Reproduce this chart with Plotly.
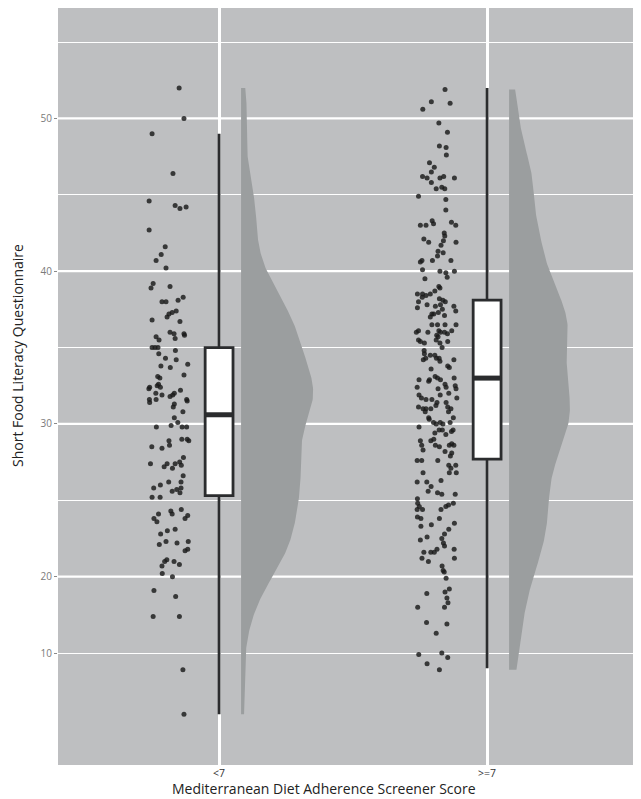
import numpy as np
import plotly.graph_objects as go

# ---------------- data ----------------
CATEGORIES = ["<7", ">=7"]
CAT_POS = [0, 1]

# group "<7": scores and horizontal jitter offsets (category units)
Y_LT7 = [52.0, 50.0, 49.0, 46.4, 44.6, 44.3, 44.1, 44.2, 42.7, 41.6, 41.1, 40.7, 40.2, 39.2, 38.9, 39.0,
         38.0, 38.0, 38.1, 38.3, 37.0, 37.2, 37.3, 37.4, 36.8, 36.7, 36.0, 35.9, 35.9, 35.8, 35.7, 35.5,
         35.6, 35.0, 35.0, 35.0, 34.6, 34.8, 34.3, 34.2, 33.8, 33.7, 33.9, 33.2, 33.1, 33.0, 32.6, 32.5,
         32.4, 32.3, 32.4, 32.2, 32.0, 31.9, 32.0, 31.9, 31.8, 31.6, 31.6, 31.4, 31.6, 31.1, 31.3, 31.5,
         30.8, 30.4, 30.1, 29.9, 29.8, 29.8, 29.8, 28.9, 28.6, 29.0, 29.0, 28.9, 28.5, 28.4, 27.8, 27.4,
         27.2, 27.4, 27.1, 27.4, 27.5, 27.3, 26.6, 26.2, 26.2, 26.0, 25.8, 25.2, 25.2, 25.6, 25.7, 25.8,
         25.5, 24.1, 23.8, 23.6, 24.3, 24.1, 24.4, 24.0, 23.8, 22.8, 22.1, 23.0, 23.1, 22.3, 22.2, 22.3,
         21.7, 21.8, 21.1, 21.0, 20.7, 21.0, 20.8, 20.2, 20.0, 19.1, 18.7, 17.4, 17.4, 13.9, 11.0]
X_LT7 = [-0.149, -0.131, -0.250, -0.172, -0.261, -0.164, -0.146, -0.123, -0.261, -0.201, -0.216, -0.235,
         -0.198, -0.246, -0.254, -0.183, -0.213, -0.198, -0.153, -0.134, -0.194, -0.187, -0.175, -0.160,
         -0.250, -0.146, -0.183, -0.168, -0.131, -0.129, -0.235, -0.224, -0.164, -0.250, -0.239, -0.228,
         -0.225, -0.163, -0.200, -0.160, -0.217, -0.182, -0.117, -0.131, -0.229, -0.221, -0.226, -0.231,
         -0.259, -0.262, -0.219, -0.144, -0.236, -0.213, -0.167, -0.173, -0.183, -0.260, -0.121, -0.259,
         -0.235, -0.171, -0.167, -0.119, -0.135, -0.167, -0.154, -0.179, -0.234, -0.138, -0.121, -0.187,
         -0.185, -0.139, -0.119, -0.113, -0.251, -0.213, -0.133, -0.256, -0.205, -0.194, -0.174, -0.164,
         -0.147, -0.141, -0.134, -0.142, -0.188, -0.219, -0.244, -0.250, -0.220, -0.175, -0.158, -0.142,
         -0.146, -0.226, -0.243, -0.232, -0.180, -0.175, -0.141, -0.117, -0.127, -0.218, -0.223, -0.193,
         -0.164, -0.198, -0.157, -0.115, -0.127, -0.117, -0.195, -0.203, -0.213, -0.168, -0.148, -0.212,
         -0.174, -0.243, -0.162, -0.246, -0.148, -0.135, -0.131]

# group ">=7"
Y_GE7 = [51.9, 51.1, 51.0, 50.6, 49.7, 49.1, 48.2, 48.1, 47.6, 47.1, 46.8, 46.5, 46.2, 46.1, 46.1, 46.2,
         46.1, 45.8, 45.4, 45.5, 45.4, 44.9, 44.7, 44.0, 43.3, 43.1, 43.0, 43.0, 43.2, 43.0, 42.5, 42.3,
         42.1, 41.9, 42.0, 41.9, 41.7, 41.3, 41.2, 41.0, 40.7, 40.7, 40.6, 40.7, 40.1, 40.0, 39.9, 40.0,
         39.6, 39.5, 39.0, 38.9, 38.5, 38.5, 38.4, 38.5, 38.7, 38.3, 38.2, 38.1, 38.0, 38.0, 37.8, 37.8,
         37.7, 37.6, 37.7, 37.5, 37.3, 37.2, 37.2, 37.4, 37.1, 37.0, 36.5, 36.5, 36.5, 36.5, 36.1, 36.1,
         36.0, 36.0, 36.1, 35.8, 36.0, 36.0, 35.9, 35.5, 35.7, 35.5, 35.4, 35.4, 35.3, 35.3, 35.0, 34.8,
         34.6, 34.5, 34.5, 34.3, 34.3, 34.2, 34.3, 34.2, 34.1, 33.6, 33.7, 33.8, 33.0, 33.1, 33.0, 32.9,
         32.9, 32.8, 32.9, 32.6, 32.4, 32.4, 32.5, 32.3, 32.3, 31.9, 31.7, 31.9, 32.0, 31.6, 31.6, 31.2,
         31.4, 31.4, 31.7, 31.1, 31.0, 31.0, 31.0, 31.1, 31.0, 30.8, 30.8, 30.4, 30.1, 30.0, 30.1, 30.0,
         30.1, 30.4, 30.3, 29.8, 29.4, 29.6, 29.6, 29.5, 29.6, 29.3, 28.9, 28.9, 29.0, 28.7, 28.6, 28.6,
         28.6, 28.6, 28.5, 28.3, 28.2, 28.1, 27.9, 27.6, 27.6, 27.6, 27.3, 27.1, 27.3, 26.8, 26.8, 26.8,
         26.2, 26.2, 25.9, 26.3, 25.6, 25.5, 25.4, 25.4, 25.1, 24.8, 24.6, 24.4, 24.4, 24.6, 24.7, 24.8,
         24.4, 23.9, 23.8, 23.8, 23.3, 23.4, 23.5, 23.1, 22.8, 22.6, 22.5, 22.4, 22.2, 22.0, 21.8, 21.8,
         21.6, 21.6, 21.6, 21.2, 21.0, 21.2, 20.7, 20.4, 20.3, 19.9, 19.2, 18.9, 19.0, 18.6, 18.3, 18.0,
         18.0, 17.0, 16.9, 16.3, 14.9, 15.0, 14.7, 14.3, 13.9]
X_GE7 = [-0.157, -0.208, -0.138, -0.240, -0.180, -0.148, -0.178, -0.153, -0.152, -0.215, -0.197, -0.208,
         -0.241, -0.224, -0.176, -0.162, -0.122, -0.208, -0.190, -0.169, -0.158, -0.256, -0.154, -0.154,
         -0.205, -0.200, -0.249, -0.228, -0.133, -0.117, -0.160, -0.158, -0.236, -0.218, -0.163, -0.116,
         -0.172, -0.183, -0.164, -0.185, -0.204, -0.135, -0.249, -0.243, -0.241, -0.176, -0.154, -0.122,
         -0.149, -0.232, -0.180, -0.176, -0.260, -0.241, -0.228, -0.212, -0.195, -0.242, -0.178, -0.165,
         -0.156, -0.256, -0.174, -0.224, -0.193, -0.260, -0.124, -0.167, -0.182, -0.206, -0.199, -0.117,
         -0.159, -0.212, -0.206, -0.185, -0.157, -0.116, -0.132, -0.256, -0.264, -0.221, -0.180, -0.188,
         -0.174, -0.159, -0.148, -0.190, -0.183, -0.256, -0.249, -0.147, -0.234, -0.176, -0.168, -0.235,
         -0.234, -0.212, -0.195, -0.189, -0.179, -0.238, -0.229, -0.124, -0.176, -0.209, -0.141, -0.147,
         -0.123, -0.194, -0.185, -0.215, -0.254, -0.218, -0.174, -0.157, -0.261, -0.153, -0.119, -0.116,
         -0.183, -0.254, -0.245, -0.175, -0.143, -0.228, -0.206, -0.191, -0.187, -0.153, -0.113, -0.256,
         -0.239, -0.228, -0.210, -0.147, -0.135, -0.144, -0.231, -0.218, -0.200, -0.190, -0.175, -0.165,
         -0.138, -0.126, -0.216, -0.254, -0.195, -0.179, -0.167, -0.133, -0.127, -0.154, -0.249, -0.210,
         -0.199, -0.132, -0.124, -0.141, -0.244, -0.193, -0.178, -0.239, -0.157, -0.132, -0.137, -0.261,
         -0.244, -0.184, -0.143, -0.135, -0.117, -0.141, -0.115, -0.239, -0.261, -0.225, -0.209, -0.172,
         -0.220, -0.185, -0.169, -0.119, -0.260, -0.259, -0.253, -0.261, -0.241, -0.154, -0.144, -0.126,
         -0.172, -0.260, -0.247, -0.178, -0.247, -0.208, -0.122, -0.143, -0.159, -0.224, -0.169, -0.249,
         -0.163, -0.159, -0.187, -0.123, -0.236, -0.210, -0.197, -0.243, -0.219, -0.122, -0.168, -0.164,
         -0.160, -0.153, -0.141, -0.225, -0.157, -0.150, -0.146, -0.259, -0.159, -0.226, -0.150, -0.190,
         -0.255, -0.169, -0.147, -0.224, -0.178]

# box-plot statistics
BOX_LOW = [11.0, 14.0]
BOX_Q1 = [25.3, 27.7]
BOX_MEDIAN = [30.6, 33.0]
BOX_Q3 = [35.0, 38.1]
BOX_HIGH = [49.0, 52.0]

Y_TICK_VALS = [15, 20, 30, 40, 50]
Y_TICK_TEXT = ["10", "20", "30", "40", "50"]
Y_MAJOR_GRID = [20, 30, 40, 50]
Y_MINOR_GRID = [15, 25, 35, 45, 55]

X_TITLE = "Mediterranean Diet Adherence Screener Score"
Y_TITLE = "Short Food Literacy Questionnaire"

# ---------------- styles ----------------
BG = "#bebfc1"
VIOLIN_FILL = "#9b9e9f"
DARK = "#2b2c2e"
FONT = "Open Sans"
BOX_W = 0.104
VIOLIN_OFFSET = 0.082
VIOLIN_MAXW = 0.269
BW_ADJUST = 0.7


def kde(vals, grid):
    v = np.asarray(vals, float)
    n = len(v)
    q75, q25 = np.percentile(v, [75, 25])
    bw = BW_ADJUST * 0.9 * min(v.std(ddof=1), (q75 - q25) / 1.34) * n ** -0.2
    z = (grid[:, None] - v[None, :]) / bw
    return np.exp(-0.5 * z ** 2).sum(axis=1) / (n * bw * np.sqrt(2 * np.pi))


groups = [(Y_LT7, X_LT7), (Y_GE7, X_GE7)]
dens = []
for ys, _ in groups:
    g = np.linspace(min(ys), max(ys), 400)
    dens.append((g, kde(ys, g)))
gmax = max(d.max() for _, d in dens)

fig = go.Figure()

for i, ((ys, xs), (g, d)) in enumerate(zip(groups, dens)):
    c = CAT_POS[i]
    # half violin
    left = c + VIOLIN_OFFSET
    right = left + d / gmax * VIOLIN_MAXW
    vx = np.concatenate([right, [left, left]])
    vy = np.concatenate([g, [g[-1], g[0]]])
    fig.add_trace(go.Scatter(x=vx, y=vy, mode="lines", fill="toself", fillcolor=VIOLIN_FILL,
                             line=dict(width=0, color=VIOLIN_FILL), hoverinfo="skip", showlegend=False))
    # jittered points
    fig.add_trace(go.Scatter(x=[c + j for j in xs], y=ys, mode="markers",
                             marker=dict(size=5, color="#1a1a1a", opacity=0.82, line=dict(width=0)),
                             showlegend=False))

# boxes
fig.add_trace(go.Box(x=CAT_POS, q1=BOX_Q1, median=BOX_MEDIAN, q3=BOX_Q3,
                     lowerfence=BOX_LOW, upperfence=BOX_HIGH, width=BOX_W, whiskerwidth=0,
                     fillcolor="white", line=dict(color=DARK, width=2.8), boxpoints=False,
                     showlegend=False))
# thick median lines
for i, c in enumerate(CAT_POS):
    fig.add_trace(go.Scatter(x=[c - BOX_W / 2, c + BOX_W / 2], y=[BOX_MEDIAN[i]] * 2, mode="lines",
                             line=dict(color=DARK, width=5), showlegend=False, hoverinfo="skip"))

shapes = [dict(type="line", xref="paper", x0=0, x1=1, yref="y", y0=v, y1=v,
               line=dict(color="white", width=2.3), layer="below") for v in Y_MAJOR_GRID]

fig.update_layout(
    width=641, height=799,
    margin=dict(l=50, r=0, t=0, b=42),
    plot_bgcolor=BG, paper_bgcolor="white",
    font=dict(family=FONT, color="#333333"),
    shapes=shapes,
    xaxis=dict(range=[-0.601, 1.604], tickvals=CAT_POS, ticktext=CATEGORIES,
               showgrid=True, gridcolor="white", gridwidth=3, zeroline=False,
               ticks="", ticklabelstandoff=0,
               tickfont=dict(size=10.5, color="#333333", family=FONT), showline=False),
    yaxis=dict(range=[7.67, 57.23], tickvals=Y_TICK_VALS, ticktext=Y_TICK_TEXT,
               showgrid=False, zeroline=False, ticks="outside", ticklen=3, tickwidth=1,
               tickcolor="#8a8a8a", tickfont=dict(size=10, color="#7a7a7a", family=FONT),
               minor=dict(tickvals=Y_MINOR_GRID, showgrid=True, gridcolor="white", gridwidth=1.3, ticks="")),
    annotations=[
        dict(text=X_TITLE, xref="paper", yref="paper", x=0.450, y=-0.0315, xanchor="center",
             yanchor="middle", showarrow=False, font=dict(size=14, color="#222222", family=FONT)),
        dict(text=Y_TITLE, xref="paper", yref="paper", x=-0.0694, y=0.5416, xanchor="center",
             yanchor="middle", textangle=-90, showarrow=False, font=dict(size=14, color="#222222", family=FONT)),
    ],
)

fig.write_html("out.html")
